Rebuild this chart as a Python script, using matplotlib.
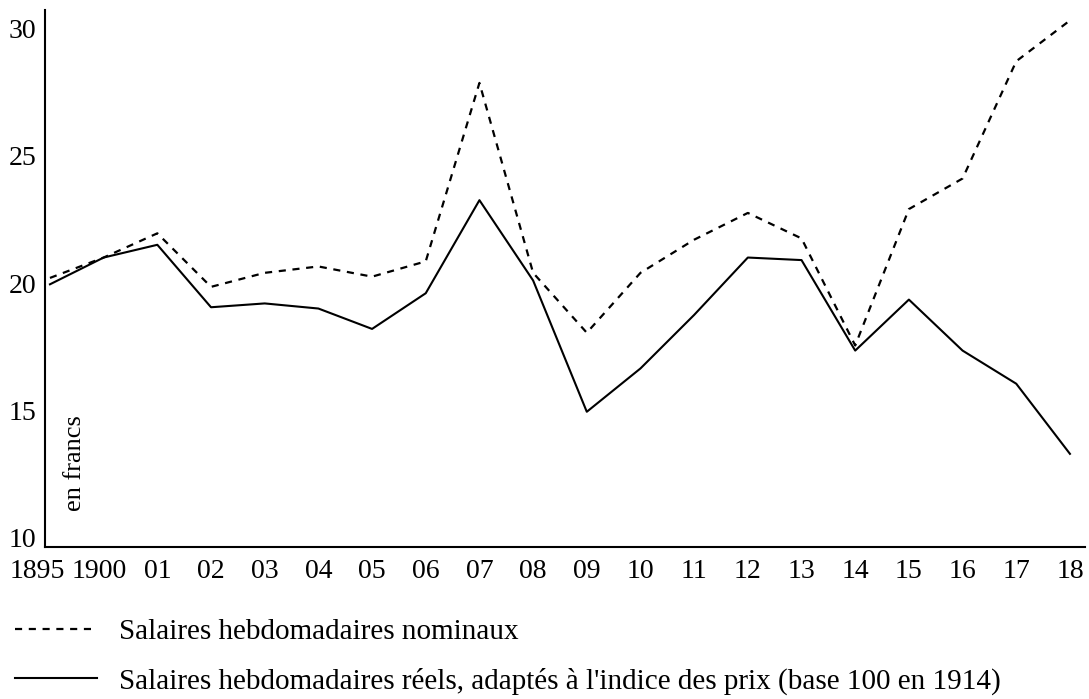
import numpy as np
import matplotlib
matplotlib.use("Agg")
import matplotlib.pyplot as plt
from matplotlib.transforms import ScaledTranslation

plt.rcParams['font.family'] = ['Liberation Serif', 'DejaVu Serif']

years = ["1895", "1900", "01", "02", "03", "04", "05", "06", "07", "08",
         "09", "10", "11", "12", "13", "14", "15", "16", "17", "18"]

# salaires hebdomadaires nominaux (francs)
nominaux = [20.2, 21.0, 21.95, 19.85, 20.4, 20.65, 20.25, 20.85, 27.85, 20.4,
            18.05, 20.4, 21.7, 22.75, 21.75, 17.55, 22.9, 24.1, 28.7, 30.3]
# salaires hebdomadaires réels (base 100 en 1914)
reels = [19.95, 21.0, 21.5, 19.05, 19.2, 19.0, 18.2, 19.6, 23.25, 20.1,
         14.95, 16.65, 18.75, 21.0, 20.9, 17.35, 19.35, 17.35, 16.05, 13.3]

x = np.arange(len(years))

fig = plt.figure(figsize=(10.89, 6.99), dpi=100)
ax = fig.add_axes([0.0413, 0.2175, 0.9550, 0.7682])

l1, = ax.plot(x, nominaux, color='black', lw=1.6, ls=(0, (3.2, 3.0)),
              label="Salaires hebdomadaires nominaux")
l2, = ax.plot(x, reels, color='black', lw=1.5, ls='-',
              label="Salaires hebdomadaires réels, adaptés à l'indice des prix (base 100 en 1914)")

ax.set_xlim(-0.093, 19.28)
ax.set_ylim(9.647, 30.71)
ax.set_yticks([10, 15, 20, 25, 30])
ax.set_xticks(x)
ax.set_xticklabels(years)

for s in ['top', 'right']:
    ax.spines[s].set_visible(False)
for s in ['left', 'bottom']:
    ax.spines[s].set_linewidth(1.5)

ax.tick_params(axis='y', length=0, pad=6, labelsize=20)
ax.tick_params(axis='x', length=0, pad=9, labelsize=20)

# les deux premiers libellés sont décalés vers la gauche
offs = [-13, -4]
for lab, dx in zip(ax.get_xticklabels()[:2], offs):
    lab.set_transform(lab.get_transform() + ScaledTranslation(dx / 100, 0, fig.dpi_scale_trans))

ax.text(0.47, 12.95, "en francs", rotation=90, ha='center', va='center', fontsize=19)

fig.legend(handles=[l1, l2], loc='upper left', bbox_to_anchor=(15 / 1089, 1 - 619 / 699),
           frameon=False, fontsize=21, handlelength=2.8, handletextpad=0.75,
           borderpad=0, borderaxespad=0, labelspacing=0.75)

fig.savefig("out.png", dpi=100)
